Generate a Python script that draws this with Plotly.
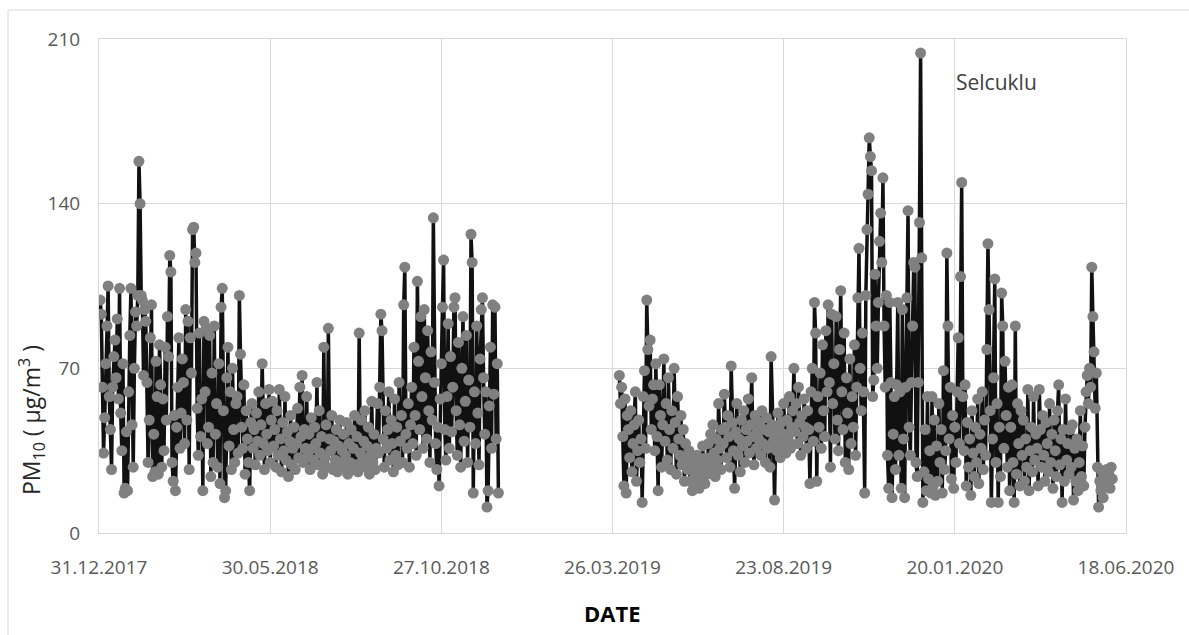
import pandas as pd
import plotly.graph_objects as go

# Daily PM10 concentrations (µg/m³), Selcuklu station
# Segment 1: 2018-01-01 .. 2018-12-16
pm10_2018_01 = [99, 93, 62, 34, 49, 72, 88, 105, 58, 44, 27, 62, 75, 82, 66, 91, 57, 104, 51, 35,
                72, 17, 19, 43, 18, 60, 84, 104, 46, 28, 70]
pm10_2018_02 = [94, 88, 101, 158, 140, 101, 99, 67, 95, 90, 64, 30, 48, 83, 97, 24, 42, 26, 73, 58,
                25, 80, 63, 28, 57, 35, 79, 48]
pm10_2018_03 = [92, 75, 118, 111, 30, 22, 50, 18, 45, 62, 83, 36, 51, 74, 64, 38, 95, 48, 90, 27,
                83, 68, 129, 130, 115, 119, 53, 33, 85, 41, 57]
pm10_2018_04 = [18, 90, 60, 87, 38, 45, 84, 24, 68, 30, 88, 42, 55, 28, 72, 21, 96, 104, 52, 15,
                18, 66, 79, 37, 60, 27, 70, 44, 30, 55]
pm10_2018_05 = [58, 34, 101, 76, 45, 36, 63, 25, 52, 40, 30, 18, 47, 55, 36, 44, 29, 51, 39, 60,
                33, 46, 72, 38, 27, 55, 42, 35, 61, 30, 48]
pm10_2018_06 = [56, 37, 44, 28, 52, 33, 61, 40, 26, 47, 35, 58, 31, 43, 24, 39, 50, 29, 36, 45,
                27, 38, 53, 32, 62, 41, 67, 30, 44, 36]
pm10_2018_07 = [58, 33, 42, 27, 49, 36, 31, 45, 38, 64, 29, 52, 34, 41, 25, 79, 32, 46, 28, 87,
                40, 35, 50, 27, 39, 31, 44, 26, 37, 48, 30]
pm10_2018_08 = [35, 42, 28, 33, 47, 25, 38, 30, 44, 27, 36, 50, 29, 41, 26, 85, 34, 48, 31, 39,
                52, 28, 37, 45, 25, 33, 56, 30, 42, 27, 36]
pm10_2018_09 = [55, 34, 62, 93, 86, 40, 28, 52, 36, 44, 60, 31, 48, 38, 26, 57, 33, 45, 29, 64,
                39, 50, 30, 97, 113, 42, 36, 55, 28, 46]
pm10_2018_10 = [62, 38, 79, 50, 33, 107, 73, 44, 92, 58, 36, 95, 66, 40, 86, 52, 30, 77, 48, 134,
                64, 38, 27, 45, 20, 57, 72, 96, 116, 44, 31]
pm10_2018_11 = [58, 89, 36, 75, 43, 62, 96, 100, 52, 33, 81, 46, 28, 70, 92, 39, 56, 84, 30, 65,
                45, 127, 115, 17, 60, 38, 88, 51, 29, 74]
pm10_2018_12 = [95, 100, 66, 42, 60, 11, 18, 54, 79, 36, 97, 59, 96, 40, 72, 17]

# Segment 2: 2019-04-01 .. 2020-06-06
pm10_2019_04 = [67, 55, 62, 41, 20, 57, 17, 50, 44, 32, 52, 26, 38, 46, 60, 22, 35, 48, 30, 40,
                13, 58, 69, 36, 99, 78, 54, 82, 44, 57]
pm10_2019_05 = [63, 35, 72, 41, 18, 63, 50, 28, 46, 74, 39, 55, 31, 66, 44, 27, 52, 36, 70, 47,
                25, 58, 40, 33, 50, 29, 44, 22, 38, 31, 27]
pm10_2019_06 = [35, 22, 28, 18, 31, 24, 20, 33, 26, 19, 29, 23, 37, 27, 21, 32, 25, 38, 30, 42,
                28, 46, 34, 24, 40, 31, 55, 36, 27, 44]
pm10_2019_07 = [38, 59, 45, 32, 50, 41, 28, 71, 47, 35, 19, 43, 55, 33, 40, 26, 48, 37, 52, 30,
                44, 39, 57, 34, 46, 66, 41, 29, 50, 36, 43]
pm10_2019_08 = [40, 47, 33, 52, 38, 44, 30, 49, 36, 43, 28, 75, 46, 39, 14, 41, 35, 51, 44, 32,
                47, 38, 55, 42, 34, 48, 40, 58, 36, 45, 52]
pm10_2019_09 = [70, 43, 55, 38, 62, 47, 33, 50, 41, 57, 45, 36, 52, 44, 21, 60, 70, 39, 98, 85,
                22, 58, 45, 68, 36, 80, 52, 41, 86, 60]
pm10_2019_10 = [97, 64, 28, 93, 55, 72, 40, 92, 48, 35, 78, 103, 60, 44, 85, 30, 66, 51, 27, 74,
                38, 58, 45, 80, 33, 62, 100, 121, 70, 52, 85]
pm10_2019_11 = [60, 17, 101, 129, 144, 168, 160, 154, 58, 65, 110, 88, 70, 98, 124, 136, 115, 151, 88, 62,
                101, 33, 19, 98, 64, 15, 42, 58, 27, 63]
pm10_2019_12 = [98, 33, 60, 19, 95, 40, 15, 62, 100, 137, 45, 33, 64, 88, 115, 113, 30, 24, 64, 132,
                204, 117, 13, 26, 44, 18, 58, 23, 35, 17, 58]
pm10_2020_01 = [20, 48, 16, 37, 22, 55, 30, 44, 17, 69, 27, 35, 119, 88, 40, 62, 23, 50, 19, 45,
                30, 60, 83, 38, 109, 149, 58, 35, 63, 20, 47]
pm10_2020_02 = [28, 40, 16, 52, 34, 24, 45, 30, 57, 21, 42, 36, 60, 27, 48, 33, 78, 123, 95, 52,
                13, 40, 66, 108, 30, 55, 13, 45, 24]
pm10_2020_03 = [102, 88, 36, 73, 50, 28, 62, 18, 45, 63, 30, 13, 88, 25, 55, 38, 20, 52, 33, 48,
                22, 40, 28, 61, 18, 35, 45, 26, 58, 31, 42]
pm10_2020_04 = [36, 20, 61, 44, 28, 50, 33, 22, 47, 38, 26, 55, 30, 42, 19, 48, 35, 24, 52, 63,
                29, 40, 13, 44, 22, 57, 31, 38, 25, 44]
pm10_2020_05 = [28, 46, 14, 36, 22, 40, 18, 30, 52, 24, 37, 20, 45, 60, 67, 55, 70, 62, 113, 92,
                77, 53, 68, 28, 11, 22, 18, 26, 15, 24, 20]
pm10_2020_06 = [27, 21, 25, 19, 28, 23]

segment1 = (pm10_2018_01 + pm10_2018_02 + pm10_2018_03 + pm10_2018_04 + pm10_2018_05 +
            pm10_2018_06 + pm10_2018_07 + pm10_2018_08 + pm10_2018_09 + pm10_2018_10 +
            pm10_2018_11 + pm10_2018_12)
segment2 = (pm10_2019_04 + pm10_2019_05 + pm10_2019_06 + pm10_2019_07 + pm10_2019_08 +
            pm10_2019_09 + pm10_2019_10 + pm10_2019_11 + pm10_2019_12 + pm10_2020_01 +
            pm10_2020_02 + pm10_2020_03 + pm10_2020_04 + pm10_2020_05 + pm10_2020_06)

dates1 = pd.date_range("2018-01-01", periods=len(segment1), freq="D")
dates2 = pd.date_range("2019-04-01", periods=len(segment2), freq="D")

x_ticks = ["2017-12-31", "2018-05-30", "2018-10-27", "2019-03-26",
           "2019-08-23", "2020-01-20", "2020-06-18"]
x_tick_labels = ["31.12.2017", "30.05.2018", "27.10.2018", "26.03.2019",
                 "23.08.2019", "20.01.2020", "18.06.2020"]
y_ticks = [0, 70, 140, 210]

FONT = "Open Sans"
LINE_COLOR = "#111111"
MARKER_COLOR = "#808080"
GRID = "#d9d9d9"

fig = go.Figure()
for xs, ys in ((dates1, segment1), (dates2, segment2)):
    fig.add_trace(go.Scatter(
        x=xs, y=ys, mode="lines+markers",
        line=dict(color=LINE_COLOR, width=3.5),
        marker=dict(color=MARKER_COLOR, size=11, line=dict(width=0)),
        showlegend=False, hoverinfo="x+y",
    ))

fig.update_layout(
    width=1189, height=635,
    margin=dict(l=99, r=63, t=39, b=102),
    paper_bgcolor="white", plot_bgcolor="white",
    font=dict(family=FONT, color="#595959"),
)

fig.update_xaxes(
    type="date", range=["2017-12-31", "2020-06-18"],
    tickvals=x_ticks, ticktext=x_tick_labels,
    tickfont=dict(family=FONT, size=19, color="#595959"),
    showgrid=True, gridcolor=GRID, gridwidth=1,
    showline=True, linecolor=GRID, linewidth=1, mirror=True,
    ticks="", ticklabelstandoff=17, zeroline=False,
)
fig.update_yaxes(
    range=[0, 210], tickvals=y_ticks,
    tickfont=dict(family=FONT, size=19, color="#595959"),
    showgrid=True, gridcolor=GRID, gridwidth=1,
    showline=True, linecolor=GRID, linewidth=1, mirror=True,
    ticks="", ticklabelstandoff=14, zeroline=False,
)

# Axis titles and station label
fig.add_annotation(
    text="PM<sub>10</sub> ( μg/m<sup>3</sup> )", textangle=-90,
    xref="paper", yref="paper", x=-0.066, y=0.229,
    xanchor="center", yanchor="middle", showarrow=False,
    font=dict(family=FONT, size=23, color="#262626"),
)
fig.add_annotation(
    text="<b>DATE</b>", xref="paper", yref="paper", x=0.5, y=-0.162,
    xanchor="center", yanchor="middle", showarrow=False,
    font=dict(family=FONT, size=22, color="#000000"),
)
fig.add_annotation(
    text="Selcuklu", xref="paper", yref="paper", x=0.874, y=0.913,
    xanchor="center", yanchor="middle", showarrow=False,
    font=dict(family=FONT, size=21, color="#404040"),
)

# Chart-area frame (top and left edges)
fig.add_shape(type="line", xref="paper", yref="paper",
              x0=-0.0886, y0=1.0587, x1=1.07, y1=1.0587,
              line=dict(color=GRID, width=1))
fig.add_shape(type="line", xref="paper", yref="paper",
              x0=-0.0886, y0=1.0587, x1=-0.0886, y1=-0.25,
              line=dict(color=GRID, width=1))

fig.write_html("out.html")
